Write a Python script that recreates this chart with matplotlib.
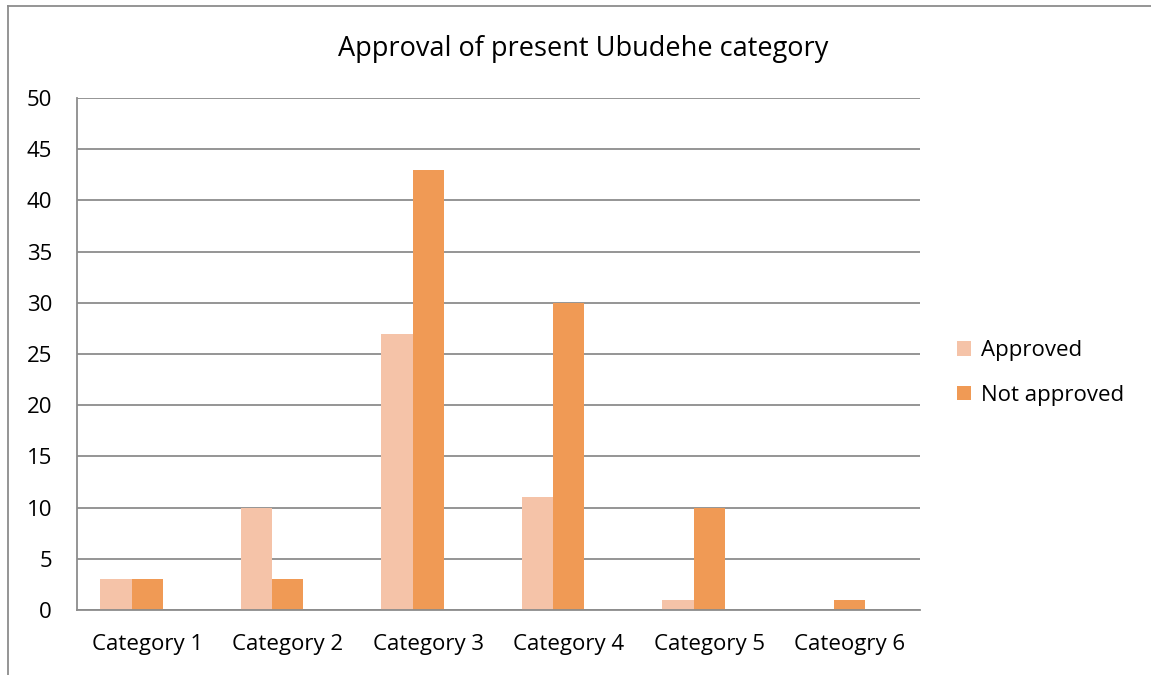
import matplotlib.pyplot as plt
import numpy as np
from matplotlib.lines import Line2D

categories = ['Category 1', 'Category 2', 'Category 3', 'Category 4', 'Category 5', 'Cateogry 6']
approved = [3, 10, 27, 11, 1, 0]
not_approved = [3, 3, 43, 30, 10, 1]

plt.rcParams['font.family'] = ['Open Sans', 'DejaVu Sans']

fig = plt.figure(figsize=(11.51, 6.75), dpi=100)
ax = fig.add_axes([0.0669, 0.0963, 0.7324, 0.7585])

x = np.arange(len(categories))
w = 0.224
# excel keeps the "not approved" bar on the category centre, approved to its left
ax.bar(x - 1.5 * w, approved, w, align='edge', color='#F5C3A8', label='Approved')
ax.bar(x - 0.5 * w, not_approved, w, align='edge', color='#F09A55', label='Not approved')

ax.set_xlim(-0.5, len(categories) - 0.5)
ax.set_ylim(0, 50)
ax.set_yticks(range(0, 51, 5))
ax.set_xticks(x)
ax.set_xticklabels(categories)
ax.yaxis.grid(True, color='#8c8c8c', linewidth=1.3)
ax.set_axisbelow(True)
ax.tick_params(length=0, labelsize=16)
ax.tick_params(axis='y', pad=18)
ax.tick_params(axis='x', pad=17)
for s in ['top', 'right']:
    ax.spines[s].set_visible(False)
for s in ['left', 'bottom']:
    ax.spines[s].set_color('#8c8c8c')
    ax.spines[s].set_linewidth(1.3)

fig.text(0.5065, 0.928, 'Approval of present Ubudehe category', ha='center', va='center', fontsize=19.5)

ax.legend(loc='center left', bbox_to_anchor=(1.031, 0.463), frameon=False, fontsize=16,
          handlelength=0.6, handleheight=0.6, handletextpad=0.45, labelspacing=1.05,
          borderpad=0)

# chart border (only left and top are in view)
fig.add_artist(Line2D([8/1151, 8/1151], [0, 1 - 6/675], color='#8c8c8c', lw=1.3))
fig.add_artist(Line2D([8/1151, 1], [1 - 6/675, 1 - 6/675], color='#8c8c8c', lw=1.3))

fig.savefig('out.png', dpi=100)
